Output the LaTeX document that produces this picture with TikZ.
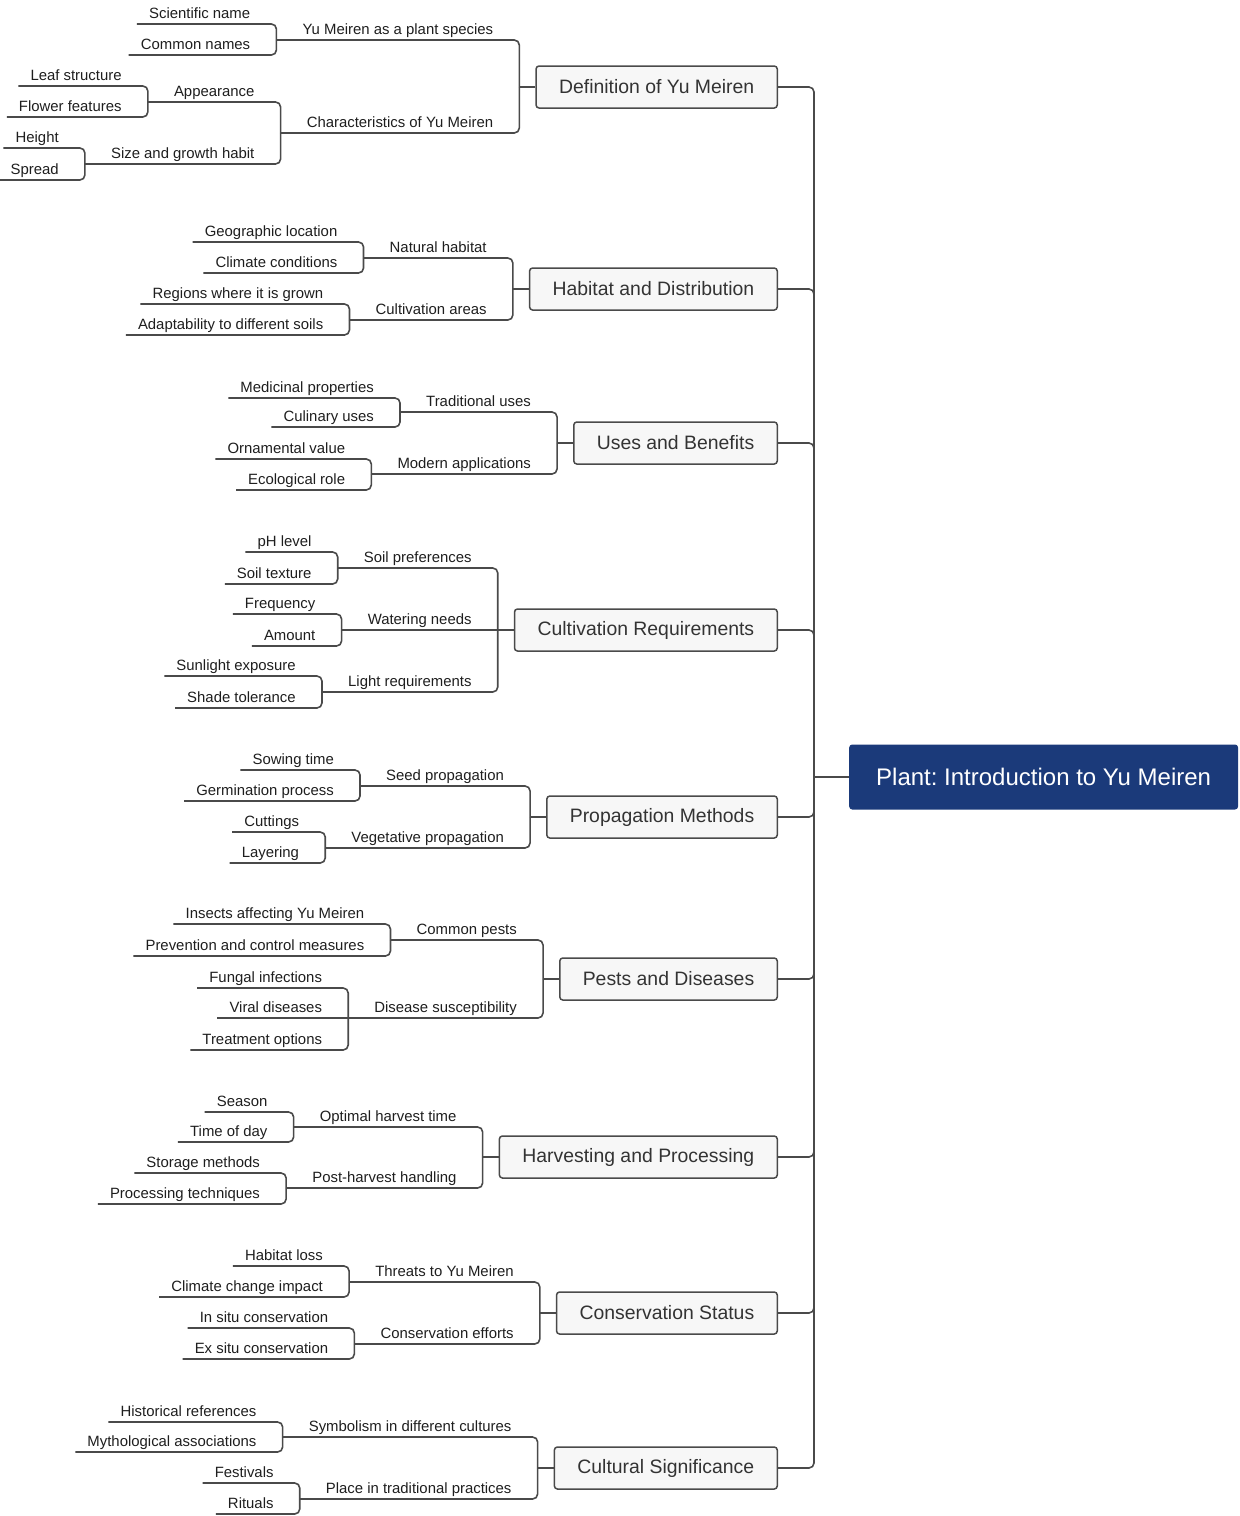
\documentclass[tikz,border=0pt]{standalone}
\usepackage{fontspec}
\setmainfont{Liberation Sans}
\frenchspacing
\usetikzlibrary{calc}
\definecolor{linec}{HTML}{4A4A4A}
\definecolor{rootc}{HTML}{1B3A7A}
\definecolor{boxfill}{HTML}{F7F7F7}
\definecolor{txt}{HTML}{1E1E1E}
\definecolor{boxtxt}{HTML}{333333}
\tikzset{
  conn/.style={draw=linec, line width=1.6pt, rounded corners=5pt},
  lab/.style={inner sep=0pt, text=txt, font=\fontsize{14.9}{18}\selectfont},
  mainbox/.style={draw=linec, line width=1.5pt, fill=boxfill, rounded corners=3pt,
    inner xsep=23pt, inner ysep=0pt, minimum height=42pt, text=boxtxt,
    font=\fontsize{19.4}{23}\selectfont},
  rootbox/.style={fill=rootc, rounded corners=3pt, inner xsep=27pt, inner ysep=0pt,
    minimum height=65pt, text=white, font=\fontsize{24}{28}\selectfont},
}
\newcommand\MainB[3]{%
  \node[mainbox, anchor=east] (#1) at (778,#2) {#3};
  \draw[conn] (trunk) |- (#1.east);
  \coordinate (#1B) at ($(#1.west)+(-16,0)$);
  \draw[conn] (#1.west) -- (#1B);
}
\newcommand\Sub[5][|-]{%
  \coordinate (#2Y) at (0,#4);
  \node[lab, anchor=base east] (#2) at ($(#3 |- #2Y)+(-26,-6)$) {#5};
  \coordinate (#2L) at ($(#2.base west)+(-26,6)$);
  \draw[conn] (#3) #1 (#2L);
}
\newcommand\Leaf[5][|-]{%
  \coordinate (#2Y) at (0,#4);
  \node[lab, anchor=base east] (#2) at ($(#3 |- #2Y)+(-26,-6)$) {#5};
  \coordinate (#2L) at ($(#2.base west)+(-12,6)$);
  \draw[conn] (#3) #1 (#2L);
}
\begin{document}
\begin{tikzpicture}[x=1pt,y=-1pt]
\useasboundingbox (0,0) rectangle (1240,1516);
\node[rootbox, anchor=west] (root) at (849,777) {Plant: Introduction to Yu Meiren};
\coordinate (trunk) at (814,777);
\draw[conn] (root.west) -- (trunk);

\MainB{a}{87}{Definition of Yu Meiren}
\Sub{a1}{aB}{40}{Yu Meiren as a plant species}
\Leaf{a11}{a1L}{24}{Scientific name}
\Leaf{a12}{a1L}{55}{Common names}
\Sub{a2}{aB}{133}{Characteristics of Yu Meiren}
\Sub{a21}{a2L}{102}{Appearance}
\Leaf{a211}{a21L}{86}{Leaf structure}
\Leaf{a212}{a21L}{117}{Flower features}
\Sub{a22}{a2L}{164}{Size and growth habit}
\Leaf{a221}{a22L}{148}{Height}
\Leaf{a222}{a22L}{180}{Spread}

\MainB{b}{289}{Habitat and Distribution}
\Sub{b1}{bB}{258}{Natural habitat}
\Leaf{b11}{b1L}{242}{Geographic location}
\Leaf{b12}{b1L}{273}{Climate conditions}
\Sub{b2}{bB}{320}{Cultivation areas}
\Leaf{b21}{b2L}{304}{Regions where it is grown}
\Leaf{b22}{b2L}{335}{Adaptability to different soils}

\MainB{c}{443}{Uses and Benefits}
\Sub{c1}{cB}{412}{Traditional uses}
\Leaf{c11}{c1L}{398}{Medicinal properties}
\Leaf{c12}{c1L}{427}{Culinary uses}
\Sub{c2}{cB}{474}{Modern applications}
\Leaf{c21}{c2L}{459}{Ornamental value}
\Leaf{c22}{c2L}{490}{Ecological role}

\MainB{d}{630}{Cultivation Requirements}
\Sub{d1}{dB}{568}{Soil preferences}
\Leaf{d11}{d1L}{552}{pH level}
\Leaf{d12}{d1L}{584}{Soil texture}
\Sub[--]{d2}{dB}{630}{Watering needs}
\Leaf{d21}{d2L}{614}{Frequency}
\Leaf{d22}{d2L}{646}{Amount}
\Sub{d3}{dB}{692}{Light requirements}
\Leaf{d31}{d3L}{676}{Sunlight exposure}
\Leaf{d32}{d3L}{708}{Shade tolerance}

\MainB{e}{817}{Propagation Methods}
\Sub{e1}{eB}{786}{Seed propagation}
\Leaf{e11}{e1L}{770}{Sowing time}
\Leaf{e12}{e1L}{801}{Germination process}
\Sub{e2}{eB}{848}{Vegetative propagation}
\Leaf{e21}{e2L}{832}{Cuttings}
\Leaf{e22}{e2L}{863}{Layering}

\MainB{f}{979}{Pests and Diseases}
\Sub{f1}{fB}{940}{Common pests}
\Leaf{f11}{f1L}{924}{Insects affecting Yu Meiren}
\Leaf{f12}{f1L}{956}{Prevention and control measures}
\Sub{f2}{fB}{1018}{Disease susceptibility}
\Leaf{f21}{f2L}{988}{Fungal infections}
\Leaf[--]{f22}{f2L}{1018}{Viral diseases}
\Leaf{f23}{f2L}{1050}{Treatment options}

\MainB{g}{1157}{Harvesting and Processing}
\Sub{g1}{gB}{1127}{Optimal harvest time}
\Leaf{g11}{g1L}{1112}{Season}
\Leaf{g12}{g1L}{1142}{Time of day}
\Sub{g2}{gB}{1188}{Post-harvest handling}
\Leaf{g21}{g2L}{1173}{Storage methods}
\Leaf{g22}{g2L}{1204}{Processing techniques}

\MainB{h}{1313}{Conservation Status}
\Sub{h1}{hB}{1282}{Threats to Yu Meiren}
\Leaf{h11}{h1L}{1266}{Habitat loss}
\Leaf{h12}{h1L}{1297}{Climate change impact}
\Sub{h2}{hB}{1344}{Conservation efforts}
\Leaf{h21}{h2L}{1328}{In situ conservation}
\Leaf{h22}{h2L}{1359}{Ex situ conservation}

\MainB{i}{1468}{Cultural Significance}
\Sub{i1}{iB}{1437}{Symbolism in different cultures}
\Leaf{i11}{i1L}{1422}{Historical references}
\Leaf{i12}{i1L}{1452}{Mythological associations}
\Sub{i2}{iB}{1499}{Place in traditional practices}
\Leaf{i21}{i2L}{1483}{Festivals}
\Leaf{i22}{i2L}{1514}{Rituals}
\end{tikzpicture}
\end{document}
